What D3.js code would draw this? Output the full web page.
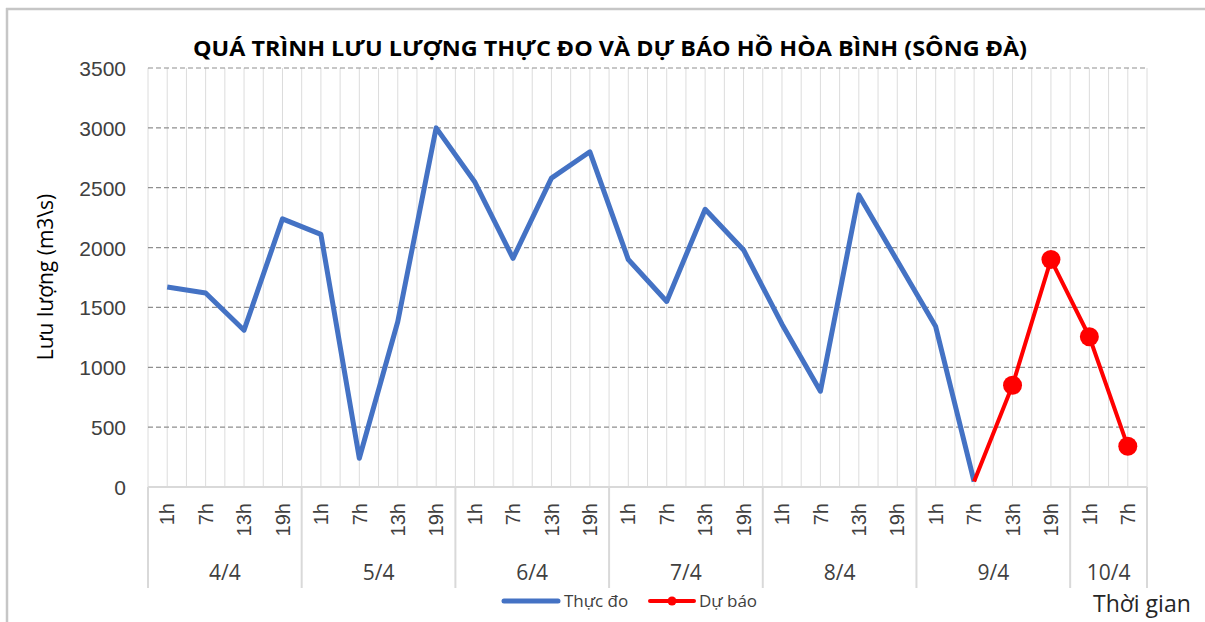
<!DOCTYPE html>
<html>
<head>
<meta charset="utf-8">
<script src="https://cdn.jsdelivr.net/npm/d3@7"></script>
<style>
  body { margin: 0; background: #fff; }
  svg { display: block; font-family: "Open Sans", "Noto Sans", sans-serif; }
</style>
</head>
<body>
<div class="canvaChart"></div>
<script>
// data
const days = ["4/4", "5/4", "6/4", "7/4", "8/4", "9/4", "10/4"];
const hoursPerDay = [4, 4, 4, 4, 4, 4, 2];
const hourLabels = ["1h", "7h", "13h", "19h"];
const yTicks = [0, 500, 1000, 1500, 2000, 2500, 3000, 3500];

// Thực đo (measured), 4/4 1h -> 9/4 7h
const measured = [
  1670, 1620, 1310, 2240,
  2110, 240, 1380, 3000,
  2550, 1910, 2580, 2800,
  1900, 1550, 2320, 1980,
  1360, 800, 2440, 1890,
  1340, 45,
];
// Dự báo (forecast), 9/4 7h -> 10/4 7h
const forecast = [45, 850, 1900, 1255, 340];
const forecastStart = 21;

const title = "QUÁ TRÌNH LƯU LƯỢNG THỰC ĐO VÀ DỰ BÁO HỒ HÒA BÌNH (SÔNG ĐÀ)";

// build category keys
let categories = [];
days.forEach((day, di) => {
  for (let h = 0; h < hoursPerDay[di]; h++) {
    categories.push({ key: day + " " + hourLabels[h], day: day, hour: hourLabels[h] });
  }
});

const width = 1205;
const height = 622;
const plot = { left: 148, right: 1147, top: 68, bottom: 487 };

let svg = d3
  .select(".canvaChart")
  .append("svg")
  .attr("width", width)
  .attr("height", height);

svg.append("rect").attr("width", width).attr("height", height).attr("fill", "#fff");

// frame
svg.append("line").attr("x1", 7).attr("x2", 7).attr("y1", 8).attr("y2", height)
  .attr("stroke", "#c6c6c6").attr("stroke-width", 2.5);
svg.append("line").attr("x1", 6).attr("x2", width).attr("y1", 9).attr("y2", 9)
  .attr("stroke", "#c6c6c6").attr("stroke-width", 2.5);

let x = d3
  .scaleBand()
  .domain(categories.map((d) => d.key))
  .range([plot.left, plot.right])
  .padding(0);
const bw = x.bandwidth();
const cx = (k) => x(k) + bw / 2;

let y = d3.scaleLinear().domain([0, 3500]).range([plot.bottom, plot.top]);

// vertical gridlines every half category
let vLines = [];
categories.forEach((c) => {
  vLines.push(x(c.key));
  vLines.push(cx(c.key));
});
vLines.push(plot.right);

svg
  .append("g")
  .selectAll("line")
  .data(vLines)
  .enter()
  .append("line")
  .attr("x1", (d) => d)
  .attr("x2", (d) => d)
  .attr("y1", plot.top)
  .attr("y2", plot.bottom)
  .attr("stroke", "#dcdcdc")
  .attr("stroke-width", 1);

// y axis + dashed horizontal gridlines
let yAxis = svg
  .append("g")
  .attr("transform", `translate(${plot.left},0)`)
  .call(
    d3.axisLeft(y)
      .tickValues(yTicks)
      .tickFormat(d3.format("d"))
      .tickSize(0)
      .tickPadding(22)
  );
yAxis.select(".domain").remove();
yAxis
  .selectAll("text")
  .attr("fill", "#404040")
  .style("font-size", "21px")
  .attr("dy", "0.36em");

svg
  .append("g")
  .selectAll("line")
  .data(yTicks.filter((d) => d > 0))
  .enter()
  .append("line")
  .attr("x1", plot.left)
  .attr("x2", plot.right)
  .attr("y1", (d) => y(d))
  .attr("y2", (d) => y(d))
  .attr("stroke", "#8f8f8f")
  .attr("stroke-width", 1.2)
  .attr("stroke-dasharray", "5,3");

// category axis (two levels)
const axisBottomY = 588;
svg.append("line")
  .attr("x1", plot.left).attr("x2", plot.right)
  .attr("y1", plot.bottom).attr("y2", plot.bottom)
  .attr("stroke", "#d9d9d9").attr("stroke-width", 2);

let xAxis = svg
  .append("g")
  .attr("transform", `translate(0,${plot.bottom})`)
  .call(
    d3.axisBottom(x)
      .tickSize(0)
      .tickFormat((k) => categories.find((c) => c.key === k).hour)
  );
xAxis.select(".domain").remove();
xAxis
  .selectAll("text")
  .attr("fill", "#404040")
  .style("font-size", "20px")
  .attr("text-anchor", "end")
  .attr("transform", "translate(0,16) rotate(-90)")
  .attr("x", 0)
  .attr("y", 0)
  .attr("dy", "0.36em");

// day groups
let dayStart = [];
let acc = 0;
hoursPerDay.forEach((n) => {
  dayStart.push(acc);
  acc += n;
});
let bounds = dayStart.map((s) => x(categories[s].key));
bounds.push(plot.right);

svg
  .append("g")
  .selectAll("line")
  .data(bounds)
  .enter()
  .append("line")
  .attr("x1", (d) => d)
  .attr("x2", (d) => d)
  .attr("y1", plot.bottom)
  .attr("y2", axisBottomY)
  .attr("stroke", "#d9d9d9")
  .attr("stroke-width", 2);

svg
  .append("g")
  .selectAll("text")
  .data(days)
  .enter()
  .append("text")
  .attr("x", (d, i) => (bounds[i] + bounds[i + 1]) / 2)
  .attr("y", 580)
  .attr("text-anchor", "middle")
  .attr("fill", "#404040")
  .style("font-size", "21px")
  .text((d) => d);

// lines
let line = d3
  .line()
  .x((d) => cx(categories[d.i].key))
  .y((d) => y(d.v));

const measuredPts = measured.map((v, i) => ({ i: i, v: v }));
const forecastPts = forecast.map((v, i) => ({ i: forecastStart + i, v: v }));

svg
  .append("path")
  .datum(measuredPts)
  .attr("d", line)
  .attr("fill", "none")
  .attr("stroke", "#4472c4")
  .attr("stroke-width", 5)
  .attr("stroke-linejoin", "round");

svg
  .append("path")
  .datum(forecastPts)
  .attr("d", line)
  .attr("fill", "none")
  .attr("stroke", "#ff0000")
  .attr("stroke-width", 4)
  .attr("stroke-linejoin", "round");

// markers (first forecast point has none)
svg
  .append("g")
  .selectAll("circle")
  .data(forecastPts.slice(1))
  .enter()
  .append("circle")
  .attr("cx", (d) => cx(categories[d.i].key))
  .attr("cy", (d) => y(d.v))
  .attr("r", 9.5)
  .attr("fill", "#ff0000");

// title
svg
  .append("text")
  .attr("x", 610)
  .attr("y", 56)
  .attr("text-anchor", "middle")
  .attr("font-weight", "bold")
  .attr("fill", "#000")
  .attr("textLength", 834)
  .attr("lengthAdjust", "spacingAndGlyphs")
  .style("font-size", "21px")
  .text(title);

// y axis title
svg
  .append("text")
  .attr("transform", "translate(53,277) rotate(-90)")
  .attr("text-anchor", "middle")
  .attr("fill", "#000")
  .style("font-size", "21px")
  .text("Lưu lượng (m3\\s)");

// legend
const legendY = 601;
svg.append("line")
  .attr("x1", 504).attr("x2", 558).attr("y1", legendY).attr("y2", legendY)
  .attr("stroke", "#4472c4").attr("stroke-width", 5).attr("stroke-linecap", "round");
svg.append("text")
  .attr("x", 564).attr("y", 607)
  .attr("fill", "#404040").style("font-size", "17px")
  .text("Thực đo");

svg.append("line")
  .attr("x1", 650).attr("x2", 694).attr("y1", legendY).attr("y2", legendY)
  .attr("stroke", "#ff0000").attr("stroke-width", 4).attr("stroke-linecap", "round");
svg.append("circle")
  .attr("cx", 672).attr("cy", legendY).attr("r", 4.5).attr("fill", "#ff0000");
svg.append("text")
  .attr("x", 699).attr("y", 607)
  .attr("fill", "#404040").style("font-size", "17px")
  .text("Dự báo");

// x axis title
svg.append("text")
  .attr("x", 1093).attr("y", 612)
  .attr("fill", "#262626").style("font-size", "23px")
  .text("Thời gian");
</script>
</body>
</html>
